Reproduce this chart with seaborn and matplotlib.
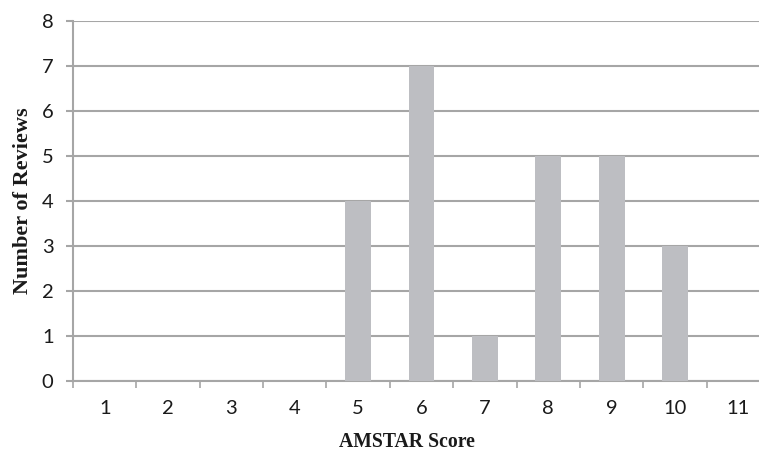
"""AMSTAR score distribution bar chart."""
import matplotlib
matplotlib.use("Agg")
import numpy as np
import pandas as pd
import matplotlib.pyplot as plt
import seaborn as sns

scores = ["1", "2", "3", "4", "5", "6", "7", "8", "9", "10", "11"]
n_reviews = [0, 0, 0, 0, 4, 7, 1, 5, 5, 3, 0]
y_ticks = [0, 1, 2, 3, 4, 5, 6, 7, 8]

BAR = "#bdbec2"
GRID = "#a6a6a6"

sns.set_style("white")
plt.rcParams["font.family"] = ["Lato", "DejaVu Sans"]

df = pd.DataFrame({"score": scores, "n": n_reviews})

fig = plt.figure(figsize=(7.59, 4.55), dpi=100)
# plot area runs a little past the right edge of the picture, as in the original
ax = fig.add_axes([73 / 759, 74 / 455, 697 / 759, 360 / 455])

sns.barplot(data=df, x="score", y="n", order=scores, color=BAR,
            width=0.41, saturation=1, linewidth=0, ax=ax, zorder=3)

ax.set_xlim(-0.5, len(scores) - 0.5)
ax.set_ylim(0, 8)
ax.set_yticks(y_ticks)
ax.yaxis.grid(True, color=GRID, lw=1.5, zorder=0)
ax.set_axisbelow(True)

# category labels centred, tick marks between categories
ax.set_xticks(np.arange(len(scores)))
ax.set_xticklabels(scores)
ax.set_xticks(np.arange(len(scores) + 1) - 0.5, minor=True)
ax.tick_params(axis="x", which="major", length=0, pad=14, labelsize=14.5,
               colors="#1a1a1a")
ax.tick_params(axis="x", which="minor", length=5, width=1.2, color=GRID,
               direction="out", bottom=True)
ax.tick_params(axis="y", which="major", length=5, width=1.5, color=GRID,
               direction="out", left=True, pad=9, labelsize=14.5,
               labelcolor="#1a1a1a")

for s in ["top", "right"]:
    ax.spines[s].set_visible(False)
for s in ["left", "bottom"]:
    ax.spines[s].set_color(GRID)
    ax.spines[s].set_linewidth(1.5)

ax.set_xlabel("AMSTAR Score", family="Liberation Serif", weight="bold",
              fontsize=14.2, color="#1a1a1a")
ax.set_ylabel("Number of Reviews", family="Liberation Serif", weight="bold",
              fontsize=16, color="#1a1a1a")
ax.xaxis.set_label_coords(0.479, -0.142)
ax.yaxis.set_label_coords(-0.058, 0.5)

fig.savefig("out.png", dpi=100)
